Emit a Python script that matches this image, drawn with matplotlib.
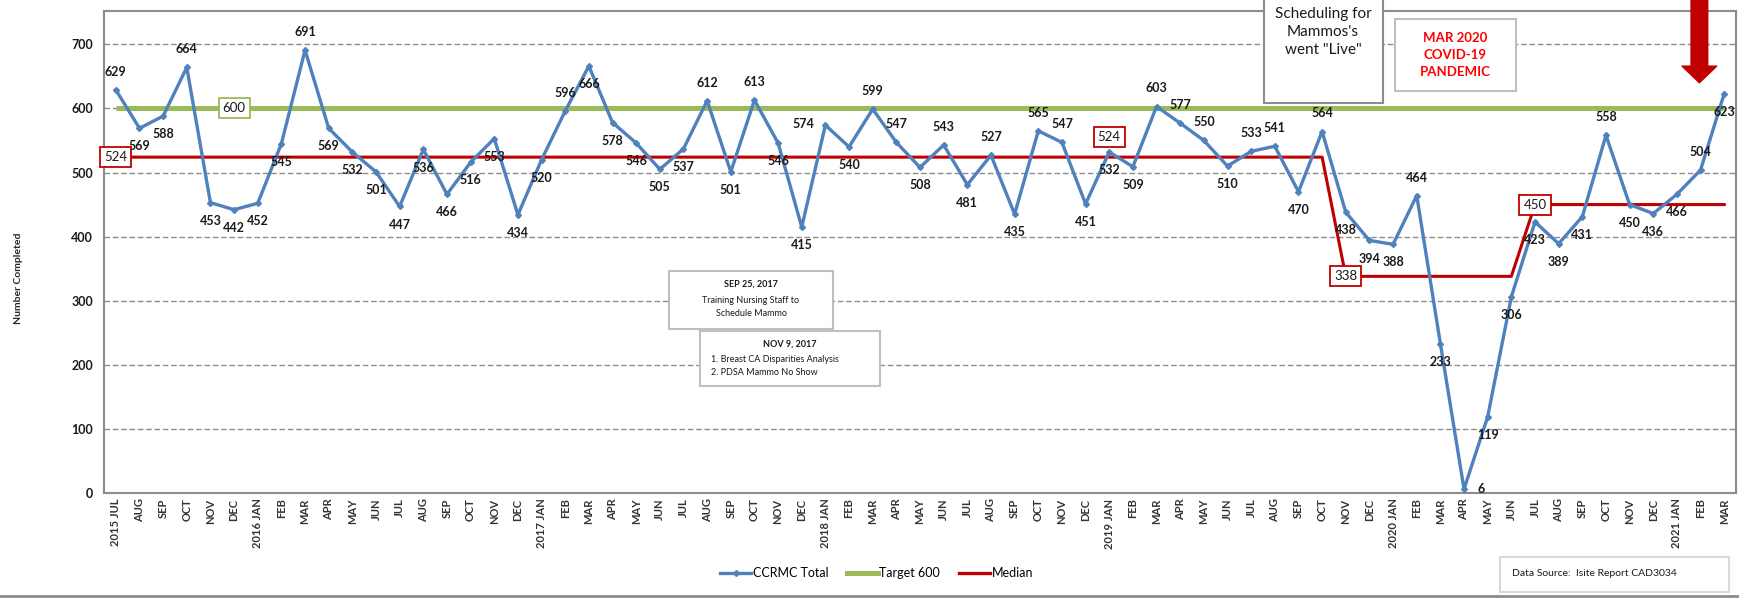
import matplotlib
matplotlib.use('Agg')
import matplotlib.pyplot as plt
from matplotlib.patches import Rectangle
from matplotlib.lines import Line2D

plt.rcParams['font.family'] = ['Lato', 'DejaVu Sans']

# monthly totals, 2015 JUL .. 2021 MAR
totals = [629, 569, 588, 664, 453, 442,
          452, 545, 691, 569, 532, 501, 447, 536, 466, 516, 553, 434,
          520, 596, 666, 578, 546, 505, 537, 612, 501, 613, 546, 415,
          574, 540, 599, 547, 508, 543, 481, 527, 435, 565, 547, 451,
          532, 509, 603, 577, 550, 510, 533, 541, 470, 564, 438, 394,
          388, 464, 233, 6, 119, 306, 423, 389, 431, 558, 450, 436,
          466, 504, 623]
target = [600] * len(totals)
median = [524] * 52 + [338] * 8 + [450] * 9

months = ['JAN', 'FEB', 'MAR', 'APR', 'MAY', 'JUN',
          'JUL', 'AUG', 'SEP', 'OCT', 'NOV', 'DEC']
labels = []
year, m = 2015, 6
for i in range(len(totals)):
    if i == 0 or m == 0:
        labels.append(str(year) + ' ' + months[m])
    else:
        labels.append(months[m])
    m += 1
    if m == 12:
        m = 0
        year += 1

# where each value label sits: a = above, b = below, l = left, r = right
label_pos = ('abbabbbbabbbbbbbbbbabbbbbabab'
             'blbaabababaab'
             'bbaaabaababbbabrbbbbbabbbab')

# boxed median / target labels (index, value, text, colour)
boxed = [(5, 600, '600', '#9BBB59'), (0, 524, '524', '#C00000'),
         (42, 555, '524', '#C00000'), (52, 338, '338', '#C00000'),
         (60, 450, '450', '#C00000')]

fig = plt.figure(figsize=(17.39, 5.98), dpi=100)
ax = fig.add_axes([0.0598, 0.1756, 0.9385, 0.806])

x = list(range(len(totals)))
ax.plot(x, target, color='#9BBB59', lw=3.6, zorder=2, solid_capstyle='butt')
ax.plot(x, median, color='#C00000', lw=2.2, zorder=3)
ax.plot(x, totals, color='#4F81BD', lw=2.4, marker='D', ms=3, zorder=4)

offs = {'a': (0, 13), 'b': (0, -13), 'l': (-16, 1), 'r': (12, 0)}
for i, v in enumerate(totals):
    dx, dy = offs[label_pos[i]]
    ax.annotate(str(v), (i, v), xytext=(dx, dy), textcoords='offset points',
                ha='center', va='center', fontsize=9, fontweight='bold',
                color='#1a1a1a', zorder=6)

for i, v, t, c in boxed:
    ax.text(i, v, t, ha='center', va='center', fontsize=9.5, color='#1a1a1a',
            zorder=7, bbox=dict(boxstyle='square,pad=0.3', fc='white',
                                ec=c, lw=1.3))

ax.set_xlim(-0.5, len(totals) - 0.5)
ax.set_ylim(0, 752)
ax.set_yticks(range(0, 800, 100))
ax.set_xticks(x)
ax.set_xticklabels(labels, rotation=90, fontsize=8, fontweight='bold',
                   color='#333333')
ax.tick_params(axis='y', labelsize=9, length=0, pad=8)
for lab in ax.get_yticklabels():
    lab.set_fontweight('bold')
    lab.set_color('#1a1a1a')
ax.tick_params(axis='x', length=0, pad=4)
for yv in range(100, 800, 100):
    ax.axhline(yv, color='#8C8C8C', lw=1, ls=(0, (4, 2)), zorder=1)
for s in ax.spines.values():
    s.set_color('#8C8C8C')
    s.set_linewidth(1.5)

fig.text(0.0105, 0.535, 'Number Completed', rotation=90, ha='center',
         va='center', fontsize=7.5, fontweight='bold', color='#262626')


def fig_box(x0, y0, x1, y1, ec='#BFBFBF', lw=1.5):
    # pixel box (top-left origin) to figure fraction
    r = Rectangle((x0 / 1739, 1 - y1 / 598), (x1 - x0) / 1739,
                  (y1 - y0) / 598, transform=fig.transFigure, fc='white',
                  ec=ec, lw=lw, zorder=8)
    fig.patches.append(r)


fig_box(1264, -20, 1383, 103, ec='#8C8C8C')
fig.text(1323 / 1739, 1 - 32 / 598, 'Scheduling for\nMammos\'s\nwent "Live"',
         ha='center', va='center', fontsize=11, color='#1a1a1a',
         linespacing=1.4, zorder=9)

fig_box(1395, 19, 1516, 91)
fig.text(1455 / 1739, 1 - 55 / 598, 'MAR 2020\nCOVID-19\nPANDEMIC',
         ha='center', va='center', fontsize=9.5, fontweight='bold',
         color='#FF0000', linespacing=1.45, zorder=9)

fig_box(669, 271, 833, 329)
fig.text(751 / 1739, 1 - 284 / 598, 'SEP 25, 2017', ha='center', va='center',
         fontsize=6.5, fontweight='bold', color='#1a1a1a', zorder=9)
fig.text(751 / 1739, 1 - 307 / 598, 'Training Nursing Staff to\nSchedule Mammo',
         ha='center', va='center', fontsize=6.5, color='#1a1a1a',
         linespacing=1.5, zorder=9)

fig_box(700, 331, 880, 386)
fig.text(790 / 1739, 1 - 344 / 598, 'NOV 9, 2017', ha='center', va='center',
         fontsize=6.5, fontweight='bold', color='#1a1a1a', zorder=9)
fig.text(711 / 1739, 1 - 366 / 598,
         '1. Breast CA Disparities Analysis\n2. PDSA Mammo No Show',
         ha='left', va='center', fontsize=6.5, color='#1a1a1a',
         linespacing=1.5, zorder=9)

fig_box(1500, 557, 1729, 592, ec='#D9D9D9')
fig.text(1512 / 1739, 1 - 574 / 598, 'Data Source:  Isite Report CAD3034',
         ha='left', va='center', fontsize=7.5, color='#1a1a1a', zorder=9)

# red arrow pointing at the latest month
ax.annotate('', xy=(66.95, 640), xytext=(66.95, 785),
            arrowprops=dict(width=12, headwidth=25, headlength=12,
                            color='#C00000', shrink=0),
            annotation_clip=False, zorder=10)

handles = [Line2D([], [], color='#4F81BD', lw=2.4, marker='D', ms=3),
           Line2D([], [], color='#9BBB59', lw=3.6),
           Line2D([], [], color='#C00000', lw=2.4)]
fig.legend(handles, ['CCRMC Total', 'Target 600', 'Median'], ncol=3,
           loc='center', bbox_to_anchor=(0.504, 0.042), frameon=False,
           fontsize=9, handlelength=2.5, handletextpad=0.1,
           columnspacing=1.5)

fig.add_artist(Line2D([0, 1], [0.004, 0.004], transform=fig.transFigure,
                      color='#8C8C8C', lw=2))

fig.savefig('out.png', dpi=100)
